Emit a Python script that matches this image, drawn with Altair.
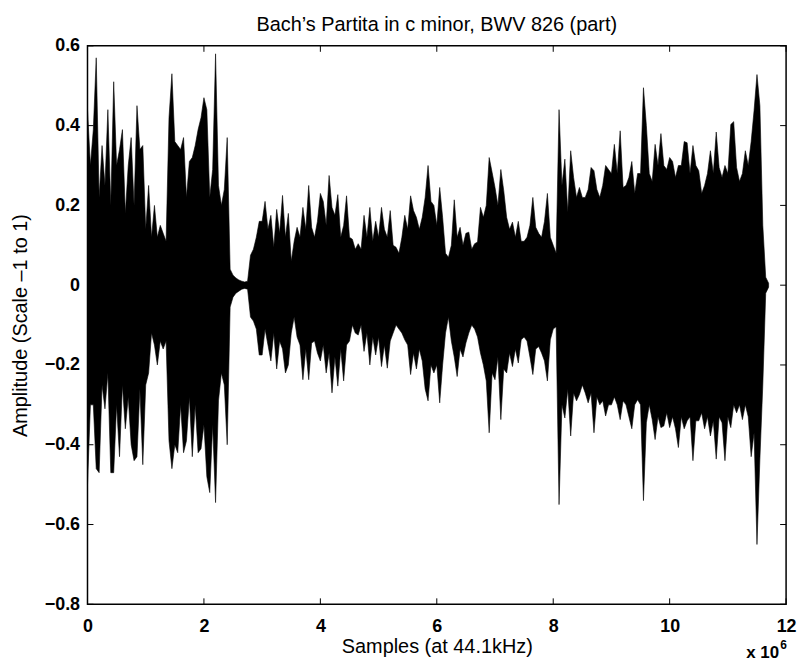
import altair as alt
import pandas as pd

# Waveform envelope: upper / lower extremes every 0.05 x 10^6 samples
hi = [
    0.44, 0.30, 0.39, 0.57, 0.22, 0.35, 0.25, 0.44, 0.20, 0.51, 0.30, 0.34, 0.39, 0.18, 0.30, 0.37, 0.20, 0.45, 0.34, 0.35,
    0.14, 0.25, 0.12, 0.20, 0.12, 0.15, 0.13, 0.11, 0.42, 0.53, 0.36, 0.35, 0.34, 0.37, 0.22, 0.31, 0.32, 0.35, 0.39, 0.42,
    0.47, 0.44, 0.22, 0.29, 0.58, 0.25, 0.20, 0.24, 0.37, 0.04, 0.025, 0.018, 0.013, 0.01, 0.008, 0.01, 0.075, 0.09, 0.12, 0.16,
    0.16, 0.21, 0.14, 0.175, 0.095, 0.19, 0.13, 0.225, 0.12, 0.18, 0.06, 0.11, 0.145, 0.12, 0.195, 0.14, 0.25, 0.145, 0.12, 0.16,
    0.23, 0.21, 0.15, 0.275, 0.195, 0.175, 0.227, 0.12, 0.15, 0.224, 0.12, 0.115, 0.09, 0.104, 0.09, 0.175, 0.12, 0.195, 0.11, 0.16,
    0.12, 0.195, 0.14, 0.12, 0.187, 0.10, 0.095, 0.08, 0.12, 0.175, 0.14, 0.224, 0.187, 0.17, 0.14, 0.17, 0.22, 0.30, 0.21, 0.20,
    0.15, 0.245, 0.17, 0.08, 0.07, 0.10, 0.214, 0.12, 0.145, 0.10, 0.13, 0.133, 0.09, 0.104, 0.108, 0.195, 0.17, 0.20, 0.32, 0.283,
    0.245, 0.20, 0.29, 0.237, 0.17, 0.14, 0.158, 0.12, 0.16, 0.11, 0.11, 0.12, 0.15, 0.22, 0.145, 0.13, 0.12, 0.16, 0.23, 0.12,
    0.10, 0.08, 0.44, 0.25, 0.316, 0.183, 0.337, 0.27, 0.22, 0.245, 0.22, 0.22, 0.24, 0.295, 0.287, 0.24, 0.22, 0.25, 0.30, 0.29,
    0.28, 0.353, 0.28, 0.387, 0.245, 0.25, 0.27, 0.31, 0.23, 0.28, 0.28, 0.495, 0.40, 0.28, 0.26, 0.353, 0.30, 0.38, 0.30, 0.29,
    0.32, 0.31, 0.27, 0.30, 0.30, 0.36, 0.357, 0.28, 0.35, 0.30, 0.287, 0.23, 0.25, 0.28, 0.337, 0.28, 0.384, 0.295, 0.27, 0.30,
    0.28, 0.403, 0.41, 0.295, 0.26, 0.28, 0.337, 0.30, 0.36, 0.438, 0.528, 0.45, 0.15, 0.02, 0.005,
]
lo = [
    -0.50, -0.30, -0.30, -0.46, -0.47, -0.25, -0.31, -0.22, -0.47, -0.47, -0.30, -0.43, -0.25, -0.36, -0.28, -0.40, -0.44, -0.43, -0.26, -0.45,
    -0.25, -0.22, -0.12, -0.15, -0.20, -0.14, -0.16, -0.14, -0.39, -0.46, -0.40, -0.42, -0.30, -0.42, -0.39, -0.28, -0.43, -0.30, -0.42, -0.41,
    -0.35, -0.48, -0.52, -0.35, -0.545, -0.29, -0.22, -0.25, -0.40, -0.055, -0.03, -0.02, -0.015, -0.01, -0.008, -0.01, -0.08, -0.09, -0.11, -0.175,
    -0.175, -0.11, -0.15, -0.19, -0.12, -0.21, -0.14, -0.16, -0.22, -0.20, -0.12, -0.08, -0.13, -0.15, -0.237, -0.16, -0.237, -0.145, -0.14, -0.17,
    -0.19, -0.15, -0.22, -0.17, -0.27, -0.18, -0.253, -0.16, -0.24, -0.15, -0.14, -0.10, -0.12, -0.125, -0.10, -0.166, -0.12, -0.20, -0.13, -0.175,
    -0.13, -0.204, -0.15, -0.208, -0.14, -0.12, -0.10, -0.11, -0.12, -0.137, -0.15, -0.224, -0.17, -0.21, -0.16, -0.19, -0.26, -0.29, -0.20, -0.22,
    -0.20, -0.295, -0.20, -0.12, -0.08, -0.14, -0.18, -0.229, -0.16, -0.18, -0.145, -0.12, -0.10, -0.11, -0.13, -0.17, -0.20, -0.24, -0.37, -0.22,
    -0.237, -0.18, -0.337, -0.21, -0.22, -0.17, -0.204, -0.16, -0.195, -0.137, -0.13, -0.14, -0.18, -0.224, -0.16, -0.154, -0.17, -0.19, -0.24, -0.137,
    -0.11, -0.104, -0.55, -0.30, -0.333, -0.26, -0.378, -0.27, -0.29, -0.274, -0.25, -0.27, -0.295, -0.27, -0.37, -0.28, -0.30, -0.29, -0.328, -0.30,
    -0.30, -0.28, -0.30, -0.337, -0.29, -0.30, -0.33, -0.36, -0.30, -0.287, -0.30, -0.54, -0.345, -0.30, -0.337, -0.387, -0.33, -0.357, -0.353, -0.32,
    -0.357, -0.33, -0.36, -0.407, -0.33, -0.36, -0.34, -0.33, -0.44, -0.34, -0.34, -0.32, -0.36, -0.33, -0.378, -0.34, -0.436, -0.33, -0.345, -0.44,
    -0.33, -0.357, -0.30, -0.32, -0.30, -0.337, -0.30, -0.33, -0.43, -0.37, -0.65, -0.436, -0.25, -0.02, -0.005,
]
STEP = 0.05  # x 10^6 samples between envelope readings
samples = [round(i * STEP, 2) for i in range(len(hi))]

x_ticks = [0, 2, 4, 6, 8, 10, 12]
y_ticks = [-0.8, -0.6, -0.4, -0.2, 0, 0.2, 0.4, 0.6]

TITLE = "Bach\u2019s Partita in c minor, BWV 826 (part)"
X_TITLE = "Samples (at 44.1kHz)"
Y_TITLE = "Amplitude (Scale \u20131 to 1)"
EXP_BASE = "x 10"
EXP_POW = "6"

FONT = "Liberation Sans, Arial, Helvetica, sans-serif"
W, H = 703, 562

xs = alt.Scale(domain=[0, 12], nice=False, zero=False)
ys = alt.Scale(domain=[-0.8, 0.6], nice=False, zero=False)

x_axis = alt.Axis(values=x_ticks, format="d", ticks=False, tickSize=0,
                  domain=False, grid=False, labelPadding=13,
                  labelFont=FONT, labelFontSize=18, labelFontWeight="bold",
                  labelColor="black", titleFont=FONT, titleFontSize=20,
                  titleFontWeight="normal", titleColor="black",
                  titlePadding=1, labelFlush=False)
y_axis = alt.Axis(values=y_ticks, ticks=False, tickSize=0, domain=False,
                  grid=False, labelPadding=8,
                  labelExpr="datum.value == 0 ? '0' : format(datum.value, '.1f')",
                  labelFont=FONT, labelFontSize=18, labelFontWeight="bold",
                  labelColor="black", titleFont=FONT, titleFontSize=20,
                  titleFontWeight="normal", titleColor="black",
                  titlePadding=14, labelFlush=False)

df = pd.DataFrame({"sample": samples, "hi": hi, "lo": lo})

wave = alt.Chart(df).mark_area(
    color="black", interpolate="linear", stroke="black", strokeWidth=0.6
).encode(
    x=alt.X("sample:Q", scale=xs, title=X_TITLE, axis=x_axis),
    y=alt.Y("hi:Q", scale=ys, title=Y_TITLE, axis=y_axis),
    y2="lo:Q",
)

xt = pd.DataFrame({"t": x_ticks})
yt = pd.DataFrame({"t": y_ticks})
TL = 6
tick_bottom = alt.Chart(xt).mark_rule(color="black", strokeWidth=1).encode(
    x=alt.X("t:Q", scale=xs, title=X_TITLE, axis=x_axis), y=alt.value(H), y2=alt.value(H - TL))
tick_top = alt.Chart(xt).mark_rule(color="black", strokeWidth=1).encode(
    x=alt.X("t:Q", scale=xs, title=X_TITLE, axis=x_axis), y=alt.value(0), y2=alt.value(TL))
tick_left = alt.Chart(yt).mark_rule(color="black", strokeWidth=1).encode(
    y=alt.Y("t:Q", scale=ys, title=Y_TITLE, axis=y_axis), x=alt.value(0), x2=alt.value(TL))
tick_right = alt.Chart(yt).mark_rule(color="black", strokeWidth=1).encode(
    y=alt.Y("t:Q", scale=ys, title=Y_TITLE, axis=y_axis), x=alt.value(W - TL), x2=alt.value(W))

title_text = alt.Chart(pd.DataFrame({"s": [TITLE]})).mark_text(
    align="center", baseline="alphabetic", font=FONT, fontSize=20, fontWeight="normal", color="black"
).encode(text="s:N", x=alt.value(W / 2), y=alt.value(-15))

exp_base = alt.Chart(pd.DataFrame({"s": [EXP_BASE]})).mark_text(
    align="right", baseline="alphabetic", font=FONT, fontSize=17, fontWeight="bold", color="black"
).encode(text="s:N", x=alt.value(W - 7), y=alt.value(H + 54))
exp_pow = alt.Chart(pd.DataFrame({"s": [EXP_POW]})).mark_text(
    align="left", baseline="alphabetic", font=FONT, fontSize=12, fontWeight="bold", color="black"
).encode(text="s:N", x=alt.value(W - 6), y=alt.value(H + 45))

chart = alt.layer(
    wave, tick_bottom, tick_top, tick_left, tick_right, title_text, exp_base, exp_pow
).properties(
    width=W, height=H,
    background="white",
    autosize=alt.AutoSizeParams(type="none"),
    padding={"left": 80, "top": 36, "right": 14, "bottom": 60},
).configure_view(
    stroke="black", strokeWidth=1.5
)

chart.save("out.html", embed_options={"renderer": "svg", "actions": False})
